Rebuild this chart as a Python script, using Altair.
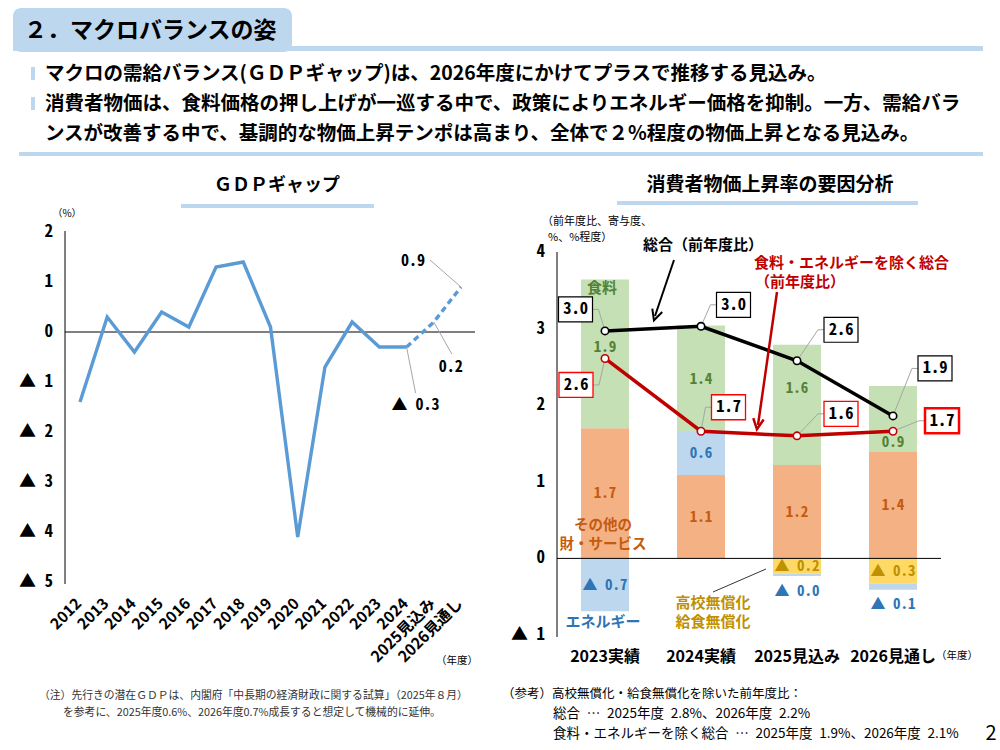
import altair as alt
import pandas as pd

# ---------------- data ----------------
gdp_years = ["2012", "2013", "2014", "2015", "2016", "2017", "2018", "2019",
             "2020", "2021", "2022", "2023", "2024", "2025見込み", "2026見通し"]
gdp_gap = [-1.4, 0.3, -0.4, 0.4, 0.1, 1.3, 1.4, 0.1, -4.1, -0.7, 0.2, -0.3, -0.3, 0.2, 0.9]
gdp_ticks = [2, 1, 0, -1, -2, -3, -4, -5]
gdp_outlook_start = 12          # dashed from 2024 onward
gdp_labelled = [14, 13, 12]     # points carrying a value callout

cpi_cats = ["2023実績", "2024実績", "2025見込み", "2026見通し"]
cpi_food = [1.94, 1.39, 1.57, 0.86]
cpi_other = [1.70, 1.09, 1.22, 1.39]
cpi_energy = [-0.69, 0.56, -0.03, -0.08]
cpi_free = [0.0, 0.0, -0.20, -0.33]
cpi_total = [2.97, 3.03, 2.58, 1.86]
cpi_core = [2.61, 1.66, 1.60, 1.66]
cpi_ticks = [4, 3, 2, 1, 0, -1]

seg_names = ["その他の財・サービス", "高校無償化・給食無償化", "エネルギー", "食料"]
seg_values = [cpi_other, cpi_free, cpi_energy, cpi_food]

# ---------------- styling / placement (not data) ----------------
seg_fill = ["#F4B183", "#FFD966", "#BDD7EE", "#C5E0B4"]
seg_text = ["#C55A11", "#BF9000", "#2E75B6", "#548235"]
LIGHT = "#BDD7EE"
GDP_BLUE = "#5B9BD5"
RED = "#C00000"
LEAD = "#A6A6A6"
JP = "Noto Sans CJK JP"
NUM = "Noto Sans Mono CJK JP, DejaVu Sans Mono"
AX = "Liberation Sans Narrow, Noto Sans CJK JP"
EN = "\u2002"

# label pixel nudges for bar segment values
seg_label_dy = {("2023実績", "食料"): -7, ("2025見込み", "食料"): -17,
                ("2026見通し", "食料"): 23, ("2025見込み", "エネルギー"): 16,
                ("2026見通し", "エネルギー"): 17}
# gdp callouts: idx -> (text dx, text dy, leader dx, leader dy)
gdp_callout_pos = {14: (-48, -26, -31, -27), 13: (17, 45, 18, 32), 12: (9, 58, 9, 46)}
# cpi boxes: (series, idx, box dx, box dy, stroke, stroke width)
cpi_boxes = [
    ("total", 0, -29.5, -21.5, "black", 1.2), ("total", 1, 32.5, -21.5, "black", 1.2),
    ("total", 2, 44, -31, "black", 1.2), ("total", 3, 42, -47.5, "black", 1.2),
    ("core", 0, -29, 26.5, "#FF0000", 1.3), ("core", 1, 27.5, -24, "#FF0000", 1.3),
    ("core", 2, 44, -22, "#FF0000", 1.3), ("core", 3, 49, -10.5, "#FF0000", 2.5),
]
BOX_W, BOX_H = 34, 25
BOX_PATH = "M-1,%.3fL1,%.3fL1,%.3fL-1,%.3fZ" % (-BOX_H / BOX_W, -BOX_H / BOX_W, BOX_H / BOX_W, BOX_H / BOX_W)
BAR_HALF = 0.25


def fmt(v):
    return ("▲ " if v < 0 else "") + f"{abs(v):.1f}"


def tick_fmt(v):
    return ("▲ " if v < 0 else "") + f"{abs(v):d}"


# ---------------- tables ----------------
gdp_df = pd.DataFrame({"year": gdp_years, "idx": list(range(len(gdp_years))), "gap": gdp_gap})
gdp_df["label"] = gdp_df["gap"].map(fmt)
gdp_tick_df = pd.DataFrame({"v": gdp_ticks, "label": [tick_fmt(v) for v in gdp_ticks]})
cpi_tick_df = pd.DataFrame({"v": cpi_ticks, "label": [tick_fmt(v) for v in cpi_ticks]})

cpi_df = pd.DataFrame({"cat": cpi_cats, "idx": list(range(len(cpi_cats))),
                       "total": cpi_total, "core": cpi_core})
cpi_df["total_lab"] = cpi_df["total"].map(fmt)
cpi_df["core_lab"] = cpi_df["core"].map(fmt)

rows = []
for i, c in enumerate(cpi_cats):
    pos, neg = 0.0, 0.0
    for name, vals in zip(seg_names, seg_values):
        v = vals[i]
        if v == 0:
            continue
        if v > 0:
            y0, y1 = pos, pos + v
            pos = y1
        else:
            y0, y1 = neg, neg + v
            neg = y1
        rows.append({"cat": c, "idx": i, "series": name, "value": v, "y0": y0, "y1": y1,
                     "mid": (y0 + y1) / 2, "label": fmt(v), "key": c + "|" + name})
seg_df = pd.DataFrame(rows)

ONE = pd.DataFrame({"k": [0]})

# ---------------- scales ----------------
GX = alt.Scale(domain=[0, len(gdp_years) - 1], range=[80, 461], nice=False, zero=False)
GY = alt.Scale(domain=[-5, 2], range=[582, 232], nice=False, zero=False)
CX = alt.Scale(domain=[-0.5, len(cpi_cats) - 0.5], range=[557, 941], nice=False, zero=False)
CY = alt.Scale(domain=[-1, 4], range=[635, 252], nice=False, zero=False)


def T(x, y, s, size, weight="normal", color="black", align="left", font=JP):
    return alt.Chart(ONE).mark_text(text=s, fontSize=size, fontWeight=weight, color=color,
                                    align=align, baseline="middle", font=font).encode(
        x=alt.value(x), y=alt.value(y))


def R(x1, x2, y1, y2, color, radius=0):
    return alt.Chart(ONE).mark_rect(color=color, cornerRadius=radius).encode(
        x=alt.value(x1), x2=alt.value(x2), y=alt.value(y1), y2=alt.value(y2))


def L(x1, y1, x2, y2, color="black", width=1.0):
    return alt.Chart(ONE).mark_rule(color=color, strokeWidth=width).encode(
        x=alt.value(x1), x2=alt.value(x2), y=alt.value(y1), y2=alt.value(y2))


def HEAD(x, y, angle, color, width):
    return alt.Chart(ONE).mark_point(shape="M-1,-1L0,1L1,-1", filled=False, size=110, angle=angle,
                                     stroke=color, strokeWidth=width, opacity=1).encode(
        x=alt.value(x), y=alt.value(y))


layers = []

# ---------------- header ----------------
layers += [
    R(13, 292, 8, 52, LIGHT, 8),
    R(13, 983, 46, 51, LIGHT),
    T(24, 31, "２．マクロバランスの姿", 23, "bold"),
    R(31, 35, 67, 80, LIGHT),
    R(31, 35, 97, 110, LIGHT),
    T(45, 74, "マクロの需給バランス(ＧＤＰギャップ)は、2026年度にかけてプラスで推移する見込み。", 19.5, "bold"),
    T(45, 104, "消費者物価は、食料価格の押し上げが一巡する中で、政策によりエネルギー価格を抑制。一方、需給バラ", 19.5, "bold"),
    T(45, 134, "ンスが改善する中で、基調的な物価上昇テンポは高まり、全体で２%程度の物価上昇となる見込み。", 19.5, "bold"),
    R(19, 983, 152, 156, LIGHT),
]

# ---------------- GDP gap panel ----------------
layers += [
    T(277, 186, "ＧＤＰギャップ", 18, "bold", align="center"),
    R(181, 374, 204, 208, LIGHT),
    T(67, 214, "（%）", 10, align="center"),
    T(457, 661, "（年度）", 10.5, align="center"),
    L(65, 231, 65, 584),
]
gx = alt.X("idx:Q", scale=GX, axis=None)
layers.append(alt.Chart(pd.DataFrame({"v": [0]})).mark_rule(color="black", strokeWidth=1).encode(
    y=alt.Y("v:Q", scale=GY, axis=None), x=alt.value(65), x2=alt.value(475)))
layers.append(alt.Chart(gdp_tick_df).mark_text(align="right", baseline="middle", fontSize=17,
                                               fontWeight="bold", font=NUM).encode(
    x=alt.value(53), y=alt.Y("v:Q", scale=GY, axis=None), text="label:N"))
layers.append(alt.Chart(gdp_df).mark_text(angle=315, align="right", baseline="middle", fontSize=15.5,
                                          fontWeight="bold", font=AX, xOffset=-1).encode(
    x=gx, y=alt.value(601), text="year:N"))
layers.append(alt.Chart(gdp_df).transform_filter(f"datum.idx <= {gdp_outlook_start}").mark_line(
    color=GDP_BLUE, strokeWidth=3.4, strokeJoin="miter").encode(
    x=gx, y=alt.Y("gap:Q", scale=GY, axis=None)))
layers.append(alt.Chart(gdp_df).transform_filter(f"datum.idx >= {gdp_outlook_start}").mark_line(
    color=GDP_BLUE, strokeWidth=3.4, strokeDash=[6, 4]).encode(
    x=gx, y=alt.Y("gap:Q", scale=GY, axis=None)))
for i in gdp_labelled:
    tdx, tdy, ldx, ldy = gdp_callout_pos[i]
    base = alt.Chart(gdp_df).transform_filter(f"datum.idx == {i}")
    layers.append(base.mark_rule(color=LEAD, strokeWidth=1, x2Offset=ldx, y2Offset=ldy).encode(
        x=gx, x2="idx:Q", y=alt.Y("gap:Q", scale=GY, axis=None), y2="gap:Q"))
    layers.append(base.mark_text(dx=tdx, dy=tdy, align="center", baseline="middle", fontSize=16,
                                 fontWeight="bold", font=NUM).encode(
        x=gx, y=alt.Y("gap:Q", scale=GY, axis=None), text="label:N"))

# ---------------- CPI panel ----------------
layers += [
    T(770, 185, "消費者物価上昇率の要因分析", 19, "bold", align="center"),
    R(617, 918, 201, 205, LIGHT),
    T(542, 222, "（前年度比、寄与度、", 11),
    T(548, 238, "%、%程度）", 11),
    L(557, 252, 557, 637),
]
cx = alt.X("idx:Q", scale=CX, axis=None)
layers.append(alt.Chart(seg_df).transform_calculate(
    xl=f"datum.idx - {BAR_HALF}", xr=f"datum.idx + {BAR_HALF}").mark_bar(strokeWidth=0).encode(
    x=alt.X("xl:Q", scale=CX, axis=None), x2="xr:Q",
    y=alt.Y("y0:Q", scale=CY, axis=None), y2="y1:Q",
    color=alt.Color("series:N", scale=alt.Scale(domain=seg_names, range=seg_fill), legend=None)))
layers.append(alt.Chart(pd.DataFrame({"v": [0]})).mark_rule(color="black", strokeWidth=1).encode(
    y=alt.Y("v:Q", scale=CY, axis=None), x=alt.value(557), x2=alt.value(941)))
layers.append(alt.Chart(cpi_tick_df).mark_text(align="right", baseline="middle", fontSize=17,
                                               fontWeight="bold", font=NUM).encode(
    x=alt.value(545), y=alt.Y("v:Q", scale=CY, axis=None), text="label:N"))
layers.append(alt.Chart(cpi_df).mark_text(align="center", baseline="middle", fontSize=16,
                                          fontWeight="bold", font=AX).encode(
    x=cx, y=alt.value(657), text="cat:N"))
layers.append(T(957, 656, "（年度）", 10.5, align="center"))

# segment value labels
seg_col = alt.Color("series:N", scale=alt.Scale(domain=seg_names, range=seg_text), legend=None)
override = list(seg_label_dy.keys())
flt = " && ".join([f"datum.key != '{c}|{s}'" for c, s in override])
layers.append(alt.Chart(seg_df).transform_filter(flt).mark_text(
    align="center", baseline="middle", fontSize=15, fontWeight="bold", font=NUM).encode(
    x=cx, y=alt.Y("mid:Q", scale=CY, axis=None), text="label:N", color=seg_col))
for (c, s), dy in seg_label_dy.items():
    layers.append(alt.Chart(seg_df).transform_filter(f"datum.key == '{c}|{s}'").mark_text(
        align="center", baseline="middle", fontSize=15, fontWeight="bold", font=NUM, dy=dy).encode(
        x=cx, y=alt.Y("mid:Q", scale=CY, axis=None), text="label:N", color=seg_col))

# series names
layers += [
    T(602, 288, "食料", 15, "bold", seg_text[3], "center"),
    T(603, 526, "その他の", 14.5, "bold", seg_text[0], "center"),
    T(603, 545, "財・サービス", 14.5, "bold", seg_text[0], "center"),
    T(603, 622, "エネルギー", 15, "bold", seg_text[2], "center"),
    T(713, 603, "高校無償化", 15, "bold", seg_text[1], "center"),
    T(713, 622, "給食無償化", 15, "bold", seg_text[1], "center"),
    L(713, 592, 766, 569, "black", 0.8),
]

# lines
for s, col in [("total", "black"), ("core", RED)]:
    layers.append(alt.Chart(cpi_df).mark_line(color=col, strokeWidth=3.5).encode(
        x=cx, y=alt.Y(f"{s}:Q", scale=CY, axis=None)))

# callout leaders and boxes
for s, i, bdx, bdy, scol, sw in cpi_boxes:
    base = alt.Chart(cpi_df).transform_filter(f"datum.idx == {i}")
    yenc = alt.Y(f"{s}:Q", scale=CY, axis=None)
    edge = bdx + (BOX_W / 2 if bdx < 0 else -BOX_W / 2)
    kink = edge + (6 if bdx < 0 else -6)
    layers.append(base.mark_rule(color=LEAD, strokeWidth=1, x2Offset=kink, y2Offset=bdy).encode(
        x=cx, x2="idx:Q", y=yenc, y2=f"{s}:Q"))
    layers.append(base.mark_rule(color=LEAD, strokeWidth=1, xOffset=kink, yOffset=bdy,
                                 x2Offset=edge, y2Offset=bdy).encode(
        x=cx, x2="idx:Q", y=yenc, y2=f"{s}:Q"))

for s, col in [("total", "black"), ("core", "#C00000")]:
    layers.append(alt.Chart(cpi_df).mark_circle(size=55, fill="white", stroke=col, strokeWidth=1.6,
                                                opacity=1).encode(
        x=cx, y=alt.Y(f"{s}:Q", scale=CY, axis=None)))

for s, i, bdx, bdy, scol, sw in cpi_boxes:
    base = alt.Chart(cpi_df).transform_filter(f"datum.idx == {i}")
    yenc = alt.Y(f"{s}:Q", scale=CY, axis=None)
    layers.append(base.mark_point(shape=BOX_PATH, size=BOX_W ** 2, filled=True, fill="white",
                                  stroke=scol, strokeWidth=sw, opacity=1,
                                  xOffset=bdx, yOffset=bdy).encode(x=cx, y=yenc))
    layers.append(base.mark_text(dx=bdx, dy=bdy, align="center", baseline="middle", fontSize=16.5,
                                 fontWeight="bold", font=NUM, color="black").encode(
        x=cx, y=yenc, text=f"{s}_lab:N"))

# annotations with arrows
layers += [
    T(643, 245, "総合（前年度比）", 15, "bold"),
    L(674, 260, 655, 316, "black", 2),
    HEAD(655.6, 315.3, 18.4, "black", 2),
    T(754, 263, "食料・エネルギーを除く総合", 15, "bold", RED),
    T(800, 282, "（前年度比）", 15, "bold", RED, "center"),
    L(777, 292, 758, 425, RED, 2.5),
    HEAD(757.7, 424, 8.3, RED, 2.5),
]

# ---------------- footnotes ----------------
layers += [
    T(39, 696, "（注）先行きの潜在ＧＤＰは、内閣府「中長期の経済財政に関する試算」（2025年８月）", 10.8, color="#333333"),
    T(63, 713, "を参考に、2025年度0.6%、2026年度0.7%成長すると想定して機械的に延伸。", 10.8, color="#333333"),
    T(502, 694, "（参考）高校無償化・給食無償化を除いた前年度比：", 12.5),
    T(553, 714, f"総合{EN}…{EN}2025年度{EN}2.8%、2026年度{EN}2.2%", 13.5),
    T(553, 734, f"食料・エネルギーを除く総合{EN}…{EN}2025年度{EN}1.9%、2026年度{EN}2.1%", 13.5),
    T(991, 734, "2", 20, align="center"),
]

chart = alt.layer(*layers).resolve_scale(
    x="independent", y="independent", color="independent"
).properties(
    width=1000, height=750, padding=0, autosize=alt.AutoSizeParams(type="none")
).configure_view(stroke=None)

chart.save("out.html", embed_options={"renderer": "svg", "actions": False})
